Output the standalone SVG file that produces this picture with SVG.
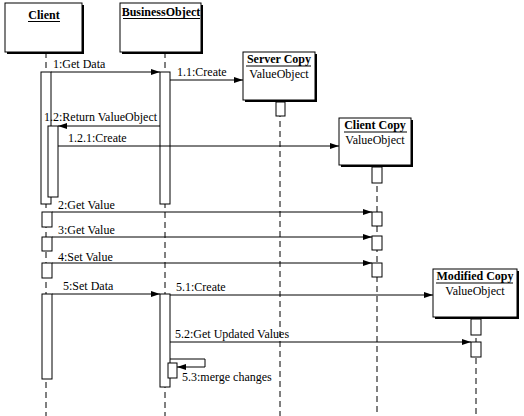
<svg xmlns="http://www.w3.org/2000/svg" width="524" height="416" viewBox="0 0 524 416">
<defs>
<marker id="arr" markerUnits="userSpaceOnUse" markerWidth="9" markerHeight="6" refX="9" refY="3" orient="auto">
<path d="M0,0 L9,3 L0,6 z" fill="#000"/>
</marker>
<style>
.box{fill:#fff;stroke:#000;stroke-width:1}
.shadow{fill:#000}
.name{font-family:"Liberation Serif",serif;font-weight:bold;font-size:12px;text-anchor:middle}
.cls{font-family:"Liberation Serif",serif;font-size:12px;text-anchor:middle}
.lbl{font-family:"Liberation Serif",serif;font-size:12px}
.ul{stroke:#000;stroke-width:1}
.life{stroke:#000;stroke-width:1;stroke-dasharray:6 4;fill:none}
.act{fill:#fff;stroke:#000;stroke-width:1}
.msg{stroke:#000;stroke-width:1;fill:none;marker-end:url(#arr)}
</style>
</defs>
<rect width="524" height="416" fill="#fff"/>

<g id="client">
<line class="life" x1="46" y1="52" x2="46" y2="416"/>
<rect class="shadow" x="7" y="5" width="77" height="49"/>
<rect class="box" x="5" y="3" width="77" height="49"/>
<text class="name" x="44" y="19">Client</text>
<line class="ul" x1="28" y1="21.5" x2="60" y2="21.5"/>
<rect class="act" x="41" y="72" width="10" height="132"/>
<rect class="act" x="48" y="126" width="10" height="71"/>
<rect class="act" x="42" y="212" width="10" height="15"/>
<rect class="act" x="42" y="237" width="10" height="14"/>
<rect class="act" x="42" y="263" width="10" height="15"/>
<rect class="act" x="42" y="294" width="10" height="85"/>
</g>

<g id="businessobject">
<line class="life" x1="165" y1="52" x2="165" y2="416"/>
<rect class="shadow" x="122" y="5" width="81" height="49"/>
<rect class="box" x="120" y="3" width="81" height="49"/>
<text class="name" x="161" y="16">BusinessObject</text>
<line class="ul" x1="123" y1="18.5" x2="200" y2="18.5"/>
<rect class="act" x="160" y="72" width="10" height="132"/>
<rect class="act" x="160" y="294" width="10" height="93"/>
<rect class="act" x="168" y="363" width="9" height="15"/>
</g>

<g id="servercopy">
<line class="life" x1="280" y1="101" x2="280" y2="416"/>
<rect class="shadow" x="245" y="54" width="72" height="48"/>
<rect class="box" x="243" y="52" width="72" height="48"/>
<text class="name" x="279" y="63">Server Copy</text>
<line class="ul" x1="246" y1="66" x2="311" y2="66"/>
<text class="cls" x="279" y="78">ValueObject</text>
<rect class="act" x="276" y="102" width="9" height="14"/>
</g>

<g id="clientcopy">
<line class="life" x1="377" y1="166" x2="377" y2="416"/>
<rect class="shadow" x="341" y="120" width="72" height="47"/>
<rect class="box" x="339" y="118" width="72" height="47"/>
<text class="name" x="375" y="129">Client Copy</text>
<line class="ul" x1="344" y1="132" x2="407" y2="132"/>
<text class="cls" x="375" y="144">ValueObject</text>
<rect class="act" x="372" y="167" width="10" height="16"/>
<rect class="act" x="372" y="212" width="10" height="14"/>
<rect class="act" x="372" y="236" width="10" height="14"/>
<rect class="act" x="372" y="263" width="10" height="14"/>
</g>

<g id="modifiedcopy">
<line class="life" x1="476" y1="318" x2="476" y2="416"/>
<rect class="shadow" x="435" y="271" width="84" height="48"/>
<rect class="box" x="433" y="269" width="84" height="48"/>
<text class="name" x="475" y="280">Modified Copy</text>
<line class="ul" x1="436" y1="283" x2="513" y2="283"/>
<text class="cls" x="475" y="295">ValueObject</text>
<rect class="act" x="471" y="319" width="10" height="16"/>
<rect class="act" x="471" y="342" width="10" height="15"/>
</g>

<g id="connectors">
<line class="msg" x1="51" y1="72" x2="160" y2="72"/>
<text class="lbl" x="53" y="68">1:Get Data</text>
<line class="msg" x1="170" y1="80" x2="243" y2="80"/>
<text class="lbl" x="177" y="76">1.1:Create</text>
<line class="msg" x1="160" y1="126" x2="58" y2="126"/>
<text class="lbl" x="44" y="121">1.2:Return ValueObject</text>
<line class="msg" x1="58" y1="146" x2="339" y2="146"/>
<text class="lbl" x="68" y="142">1.2.1:Create</text>
<line class="msg" x1="52" y1="212" x2="372" y2="212"/>
<text class="lbl" x="58" y="209">2:Get Value</text>
<line class="msg" x1="52" y1="237" x2="372" y2="237"/>
<text class="lbl" x="58" y="234">3:Get Value</text>
<line class="msg" x1="52" y1="263" x2="372" y2="263"/>
<text class="lbl" x="58" y="261">4:Set Value</text>
<line class="msg" x1="52" y1="294" x2="160" y2="294"/>
<text class="lbl" x="63" y="290">5:Set Data</text>
<line class="msg" x1="170" y1="295" x2="433" y2="295"/>
<text class="lbl" x="176" y="291">5.1:Create</text>
<line class="msg" x1="170" y1="342" x2="471" y2="342"/>
<text class="lbl" x="175" y="338">5.2:Get Updated Values</text>
<polyline class="msg" points="170,359 205,359 205,367 177,367"/>
<text class="lbl" x="182" y="381">5.3:merge changes</text>
</g>
</svg>
